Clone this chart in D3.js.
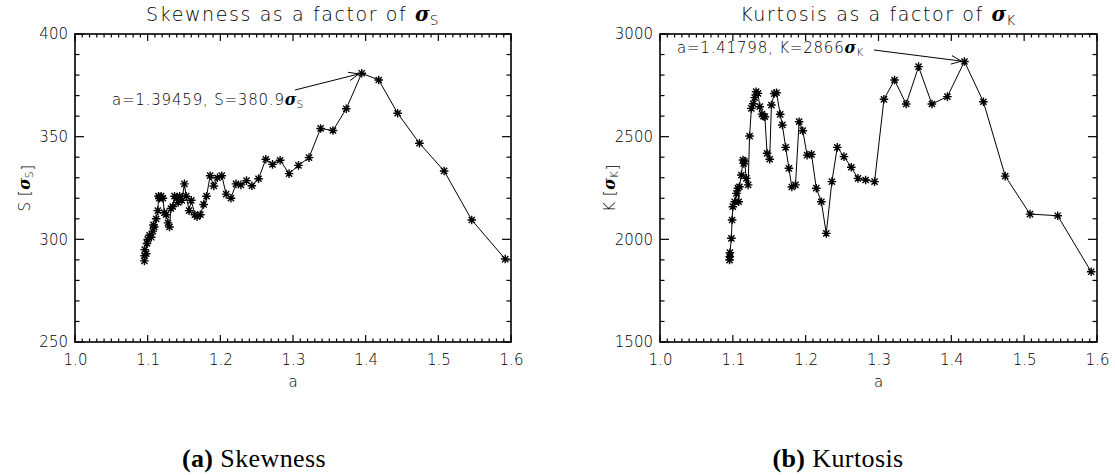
<!DOCTYPE html>
<html>
<head>
<meta charset="utf-8">
<script src="https://cdn.jsdelivr.net/npm/d3@7"></script>
<style>
  html, body { margin: 0; padding: 0; background: #fff; }
  svg { display: block; }
  .lbl { font-family: "DejaVu Sans", sans-serif; font-weight: 200; fill: #000; }
  .cap { font-family: "Liberation Serif", "DejaVu Serif", serif; fill: #000; }
</style>
</head>
<body>
<svg id="fig" width="1115" height="475"></svg>
<script>
// Shape parameter a, shared by both panels
const alpha = [1.0955, 1.0958, 1.0960, 1.0980, 1.0990, 1.1000, 1.1026, 1.1050, 1.1070, 1.1080,
  1.1090, 1.1117, 1.1140, 1.1150, 1.1160, 1.1186, 1.1210, 1.1230, 1.1255, 1.1280,
  1.1300, 1.1320, 1.1345, 1.1370, 1.1400, 1.1420, 1.1440, 1.1470, 1.1506, 1.1530,
  1.1570, 1.1600, 1.1650, 1.1680, 1.1725, 1.1770, 1.1810, 1.1860, 1.1910, 1.1960,
  1.2020, 1.2080, 1.2146, 1.2215, 1.2283, 1.2360, 1.2434, 1.2526, 1.2626, 1.2718,
  1.2823, 1.2946, 1.3075, 1.3220, 1.3380, 1.3550, 1.3733, 1.39459, 1.41798, 1.4440,
  1.4740, 1.5080, 1.5460, 1.5920];

// Skewness in units of sigma_S
const skewness = [289.5, 292, 295, 293, 298, 300, 302, 301, 304, 307,
  306, 310, 314, 321, 320, 321, 320, 313, 312, 308,
  306, 315, 316, 321, 320, 318, 321, 319, 327, 321,
  314, 319, 312, 311, 312, 317, 321, 331, 326, 330,
  331, 322, 320, 327, 326.5, 328.6, 326.1, 329.5, 339, 336.5,
  338.5, 332, 336, 339.8, 354, 353, 363.6, 380.9, 377.6, 361.4,
  346.8, 333.3, 309.4, 290.4];

// Kurtosis in units of sigma_K
const kurtosis = [1899, 1915, 1935, 2005, 2094, 2159, 2183, 2224, 2249, 2183,
  2256, 2313, 2386, 2370, 2380, 2297, 2265, 2503, 2638, 2660,
  2690, 2719, 2711, 2646, 2610, 2600, 2597, 2419, 2390, 2654,
  2710, 2714, 2609, 2557, 2448, 2346, 2255, 2265, 2573, 2529,
  2410, 2414, 2249, 2183, 2029, 2281, 2448, 2403, 2351, 2297,
  2289, 2281, 2682, 2776, 2659, 2841, 2659, 2695, 2866, 2670,
  2308, 2123, 2115, 1842];

const xTicks = [1.0, 1.1, 1.2, 1.3, 1.4, 1.5, 1.6];
const skewTicks = [250, 300, 350, 400];
const kurtTicks = [1500, 2000, 2500, 3000];

const svg = d3.select("#fig");

// text with an italic bold sigma and a subscript
function richText(sel, parts) {
  parts.forEach(([t, k]) => {
    const ts = sel.append("tspan").text(t);
    if (k === "g") ts.attr("font-family", "DejaVu Serif, serif").attr("font-style", "italic")
      .attr("font-weight", "bold").attr("font-size", "1.05em").attr("letter-spacing", 0);
    if (k === "s") ts.attr("font-size", "0.72em").attr("dy", "0.3em");
  });
}

function panel(opt) {
  const { left, top, width, height, yDomain, yTickVals, yMinorStep, values,
          title, symbol, peakIdx, noteX, noteY, noteParts, arrowFrom, caption, capX } = opt;
  const g = svg.append("g");
  const x = d3.scaleLinear().domain([1.0, 1.6]).range([left, left + width]);
  const y = d3.scaleLinear().domain(yDomain).range([top + height, top]);

  const xMinor = d3.range(100, 161).map(v => v / 100).filter(v => !xTicks.some(t => Math.abs(t - v) < 1e-9));
  const yMinor = d3.range(yDomain[0], yDomain[1] + 1e-9, yMinorStep).filter(v => !yTickVals.includes(v));

  const xMaj = 7, xMin = 3.5, yMaj = 9, yMin = 4.5;

  // tick labels
  g.append("g").attr("transform", `translate(0,${top + height})`)
    .call(d3.axisBottom(x).tickValues(xTicks).tickSize(0).tickPadding(12).tickFormat(d3.format(".1f")));
  g.append("g").attr("transform", `translate(${left},0)`)
    .call(d3.axisLeft(y).tickValues(yTickVals).tickSize(0).tickPadding(7).tickFormat(d3.format("d")));
  g.selectAll(".domain").remove();
  g.selectAll(".tick text").attr("class", "lbl").attr("font-size", 15)
    .attr("font-family", "DejaVu Sans, sans-serif").attr("font-weight", 200).attr("fill", "#000");

  // inward tick marks on all four sides
  const ticks = g.append("g").attr("stroke", "#000").attr("stroke-width", 1.2);
  const xt = xTicks.map(v => [v, xMaj]).concat(xMinor.map(v => [v, xMin]));
  const yt = yTickVals.map(v => [v, yMaj]).concat(yMinor.map(v => [v, yMin]));
  ticks.selectAll("line.xb").data(xt).join("line").attr("class", "xb")
    .attr("x1", d => x(d[0])).attr("x2", d => x(d[0]))
    .attr("y1", top + height).attr("y2", d => top + height - d[1]);
  ticks.selectAll("line.xt").data(xt).join("line").attr("class", "xt")
    .attr("x1", d => x(d[0])).attr("x2", d => x(d[0]))
    .attr("y1", top).attr("y2", d => top + d[1]);
  ticks.selectAll("line.yl").data(yt).join("line").attr("class", "yl")
    .attr("y1", d => y(d[0])).attr("y2", d => y(d[0]))
    .attr("x1", left).attr("x2", d => left + d[1]);
  ticks.selectAll("line.yr").data(yt).join("line").attr("class", "yr")
    .attr("y1", d => y(d[0])).attr("y2", d => y(d[0]))
    .attr("x1", left + width).attr("x2", d => left + width - d[1]);

  // frame
  g.append("rect").attr("x", left).attr("y", top).attr("width", width).attr("height", height)
    .attr("fill", "none").attr("stroke", "#000").attr("stroke-width", 1.6);

  // data line
  const pts = alpha.map((a, i) => [x(a), y(values[i])]);
  g.append("path").attr("d", d3.line()(pts)).attr("fill", "none").attr("stroke", "#000").attr("stroke-width", 1);

  // asterisk markers
  const r = 4.3;
  const s = r * 0.72;
  const star = `M${-r},0H${r}M0,${-r}V${r}M${-s},${-s}L${s},${s}M${-s},${s}L${s},${-s}`;
  g.append("g").selectAll("path").data(pts).join("path")
    .attr("transform", d => `translate(${d[0]},${d[1]})`)
    .attr("d", star).attr("stroke", "#000").attr("stroke-width", 1.4).attr("fill", "none");

  // title
  const t = g.append("text").attr("class", "lbl").attr("x", left + width / 2).attr("y", top - 13)
    .attr("text-anchor", "middle").attr("font-size", 19).attr("letter-spacing", 1.6);
  richText(t, [[title, "n"], ["σ", "g"], [symbol, "s"]]);

  // axis titles
  g.append("text").attr("class", "lbl").attr("x", left + width / 2).attr("y", top + height + 45)
    .attr("text-anchor", "middle").attr("font-size", 15).text("a");
  const yl = g.append("text").attr("class", "lbl")
    .attr("transform", `translate(${left - 45},${top + height / 2}) rotate(-90)`)
    .attr("text-anchor", "middle").attr("font-size", 15).attr("letter-spacing", 0.5);
  richText(yl, [[symbol + " [", "n"], ["σ", "g"], [symbol, "s"], ["]", "n"]]);

  // peak annotation with arrow
  const note = g.append("text").attr("class", "lbl").attr("x", noteX).attr("y", noteY)
    .attr("font-size", 15).attr("letter-spacing", 0.8);
  richText(note, noteParts);
  const px = x(alpha[peakIdx]), py = y(values[peakIdx]);
  const ang = Math.atan2(py - arrowFrom[1], px - arrowFrom[0]);
  const ex = px - 3 * Math.cos(ang), ey = py - 3 * Math.sin(ang);
  const hl = 11, ha = 0.4;
  g.append("path")
    .attr("d", `M${arrowFrom[0]},${arrowFrom[1]}L${ex},${ey}` +
      `M${ex - hl * Math.cos(ang - ha)},${ey - hl * Math.sin(ang - ha)}L${ex},${ey}` +
      `L${ex - hl * Math.cos(ang + ha)},${ey - hl * Math.sin(ang + ha)}`)
    .attr("fill", "none").attr("stroke", "#000").attr("stroke-width", 1);

  // sub-figure caption
  const c = g.append("text").attr("class", "cap").attr("x", capX).attr("y", 467)
    .attr("text-anchor", "middle").attr("font-size", 26).attr("letter-spacing", 0.4);
  c.append("tspan").attr("font-weight", "bold").text(caption[0]);
  c.append("tspan").text(" " + caption[1]);
}

const peakS = skewness.indexOf(d3.max(skewness));
const peakK = kurtosis.indexOf(d3.max(kurtosis));

panel({
  left: 75, top: 34, width: 436, height: 308,
  yDomain: [250, 400], yTickVals: skewTicks, yMinorStep: 10, values: skewness,
  title: "Skewness as a factor of ", symbol: "S", peakIdx: peakS,
  noteX: 112, noteY: 105,
  noteParts: [[`a=${alpha[peakS]}, S=${skewness[peakS].toFixed(1)}`, "n"], ["σ", "g"], ["S", "s"]],
  arrowFrom: [295, 90], caption: ["(a)", "Skewness"], capX: 254
});

panel({
  left: 660, top: 34, width: 437, height: 308,
  yDomain: [1500, 3000], yTickVals: kurtTicks, yMinorStep: 100, values: kurtosis,
  title: "Kurtosis as a factor of ", symbol: "K", peakIdx: peakK,
  noteX: 677, noteY: 53,
  noteParts: [[`a=${alpha[peakK]}, K=${kurtosis[peakK]}`, "n"], ["σ", "g"], ["K", "s"]],
  arrowFrom: [874, 50], caption: ["(b)", "Kurtosis"], capX: 838
});
</script>
</body>
</html>
